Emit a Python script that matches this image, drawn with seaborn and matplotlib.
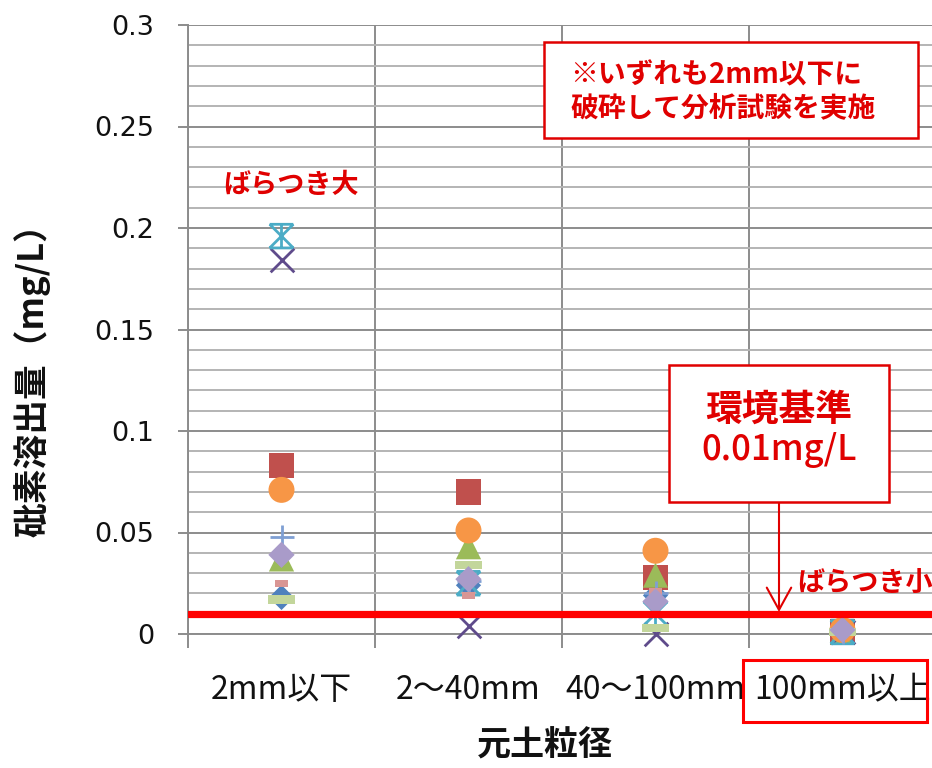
import numpy as np
import pandas as pd
import matplotlib
matplotlib.use("Agg")
import matplotlib.pyplot as plt
import seaborn as sns
from matplotlib.path import Path
from matplotlib.patches import Rectangle
from matplotlib.ticker import MultipleLocator, FixedLocator

# ---------------- data ----------------
categories = ["2mm以下", "2～40mm", "40～100mm", "100mm以上"]
series_names = ["試料1", "試料2", "試料3", "試料4", "試料5",
                "試料6", "試料7", "試料8", "試料9", "試料10"]
s1 = [0.018, 0.024, 0.019, 0.001]
s2 = [0.083, 0.070, 0.028, 0.001]
s3 = [0.037, 0.043, 0.029, 0.001]
s4 = [0.184, 0.004, 0.000, 0.001]
s5 = [0.196, 0.025, 0.010, 0.001]
s6 = [0.071, 0.051, 0.041, 0.002]
s7 = [0.048, 0.026, 0.020, 0.001]
s8 = [0.025, 0.019, 0.021, 0.001]
s9 = [0.017, 0.034, 0.003, 0.001]
s10 = [0.039, 0.027, 0.016, 0.002]
all_series = [s1, s2, s3, s4, s5, s6, s7, s8, s9, s10]
standard_value = 0.01
yticks = [0, 0.05, 0.1, 0.15, 0.2, 0.25, 0.3]
ytick_labels = ["0", "0.05", "0.1", "0.15", "0.2", "0.25", "0.3"]

df = pd.DataFrame({
    "series": np.repeat(series_names, len(categories)),
    "粒径": categories * len(series_names),
    "値": np.concatenate(all_series),
})

# ---------------- style ----------------
sns.set_style("white")
plt.rcParams["font.family"] = ["Noto Sans CJK JP", "DejaVu Sans"]

RED = "#E00000"
LINE_RED = "#FF0000"

star = Path(
    [(-1, -1), (1, 1), (-1, 1), (1, -1), (0, -1), (0, 1),
     (-1, 1), (1, 1), (-1, -1), (1, -1)],
    [Path.MOVETO, Path.LINETO, Path.MOVETO, Path.LINETO, Path.MOVETO, Path.LINETO,
     Path.MOVETO, Path.LINETO, Path.MOVETO, Path.LINETO])
short_dash = [(-1, -0.5), (1, -0.5), (1, 0.5), (-1, 0.5)]
long_dash = [(-1, -0.3), (1, -0.3), (1, 0.3), (-1, 0.3)]

# kind: "fill" = filled marker, "line" = matplotlib line-art marker, "path" = custom line path
styles = [
    dict(marker="D", color="#4F81BD", s=165, kind="fill"),
    dict(marker="s", color="#C0504D", s=330, kind="fill"),
    dict(marker="^", color="#9BBB59", s=330, kind="fill"),
    dict(marker="x", color="#5F4B8B", s=290, kind="line"),
    dict(marker=star, color="#4BACC6", s=290, kind="path"),
    dict(marker="o", color="#F79646", s=350, kind="fill"),
    dict(marker="+", color="#7F9FD3", s=300, kind="line"),
    dict(marker=short_dash, color="#D99694", s=100, kind="fill"),
    dict(marker=long_dash, color="#C3D69B", s=380, kind="fill"),
    dict(marker="D", color="#A99BC9", s=180, kind="fill"),
]

W, H = 932, 768
fig = plt.figure(figsize=(W / 100, H / 100), dpi=100)


def fx(x):
    return x / W


def fy(y):
    return 1 - y / H


ax = fig.add_axes([fx(188), fy(634), fx(936) - fx(188), fy(25) - fy(634)])

for i, (name, st) in enumerate(zip(series_names, styles)):
    sub = df[df["series"] == name]
    common = dict(data=sub, x="粒径", y="値", marker=st["marker"], s=st["s"], ax=ax,
                  legend=False, zorder=3 + i, clip_on=False)
    if st["kind"] == "fill":
        sns.scatterplot(color=st["color"], edgecolor="none", linewidth=0, **common)
    elif st["kind"] == "line":
        sns.scatterplot(color=st["color"], linewidth=2, **common)
    else:
        sns.scatterplot(color=st["color"], edgecolor=st["color"], facecolor="none",
                        linewidth=2, **common)

ax.axhline(standard_value, color=LINE_RED, lw=5.2, zorder=20)

ax.set_xlim(-0.5, len(categories) - 0.5)
ax.set_ylim(0, 0.3)
ax.set_yticks(yticks)
ax.set_yticklabels(ytick_labels, family="DejaVu Sans", fontsize=19.5, color="#111111")
ax.yaxis.set_minor_locator(MultipleLocator(0.01))
ax.set_xticks(range(len(categories)))
ax.set_xticklabels(categories, fontsize=23, color="#111111")
ax.xaxis.set_minor_locator(FixedLocator(np.arange(-0.5, len(categories), 1.0)))

ax.tick_params(axis="y", which="major", length=7.5, width=1.4, color="#8C8C8C",
               direction="out", pad=17, left=True)
ax.tick_params(axis="y", which="minor", length=0)
ax.tick_params(axis="x", which="major", length=0, pad=29)
ax.tick_params(axis="x", which="minor", length=10, width=1.4, color="#8C8C8C",
               direction="out", bottom=True)

ax.grid(False)
ax.grid(axis="y", which="minor", color="#B4B4B4", lw=1.4, zorder=0)
ax.grid(axis="y", which="major", color="#8C8C8C", lw=1.4, zorder=0)
ax.grid(axis="x", which="minor", color="#8C8C8C", lw=1.4, zorder=0)
ax.set_axisbelow(True)

for side in ["top", "right"]:
    ax.spines[side].set_visible(False)
for side in ["left", "bottom"]:
    ax.spines[side].set_color("#8C8C8C")
    ax.spines[side].set_linewidth(1.4)

ax.set_xlabel("")
ax.set_ylabel("")

# axis titles
fig.text(fx(32), fy(372), "砒素溶出量（mg/L）", rotation=90, ha="center", va="center",
         fontsize=25, fontweight="bold", color="#111111")
fig.text(fx(545), fy(745), "元土粒径", ha="center", va="center",
         fontsize=24.5, fontweight="bold", color="#111111")

# annotations
fig.text(fx(291), fy(185), "ばらつき大", ha="center", va="center",
         fontsize=19.5, fontweight="bold", color=RED)
fig.text(fx(797), fy(583), "ばらつき小", ha="left", va="center",
         fontsize=19.5, fontweight="bold", color=RED)

fig.add_artist(Rectangle((fx(544), fy(138)), fx(918) - fx(544), fy(42) - fy(138),
                         transform=fig.transFigure, facecolor="white", edgecolor=RED,
                         lw=1.8, zorder=5))
fig.text(fx(570), fy(75), "※いずれも2mm以下に", ha="left", va="center",
         fontsize=20, fontweight="bold", color=RED, zorder=6)
fig.text(fx(570), fy(108), "破砕して分析試験を実施", ha="left", va="center",
         fontsize=20, fontweight="bold", color=RED, zorder=6)

fig.add_artist(Rectangle((fx(669), fy(502)), fx(889) - fx(669), fy(365) - fy(502),
                         transform=fig.transFigure, facecolor="white", edgecolor=RED,
                         lw=1.8, zorder=5))
fig.text(fx(779), fy(410), "環境基準", ha="center", va="center",
         fontsize=26.5, fontweight="bold", color=RED, zorder=6)
fig.text(fx(779), fy(450), "0.01mg/L", ha="center", va="center",
         fontsize=25, fontweight="medium", color=RED, zorder=6)

ax.annotate("", xy=(fx(779), fy(612)), xytext=(fx(779), fy(502)),
            xycoords="figure fraction", textcoords="figure fraction",
            arrowprops=dict(arrowstyle="->,head_length=1.0,head_width=0.55",
                            color=RED, lw=1.5, mutation_scale=16,
                            shrinkA=0, shrinkB=0), zorder=21)

fig.add_artist(Rectangle((fx(743), fy(722)), fx(927) - fx(743), fy(660) - fy(722),
                         transform=fig.transFigure, facecolor="none", edgecolor=LINE_RED,
                         lw=2.2, zorder=5))

fig.savefig("out.png", dpi=100)
